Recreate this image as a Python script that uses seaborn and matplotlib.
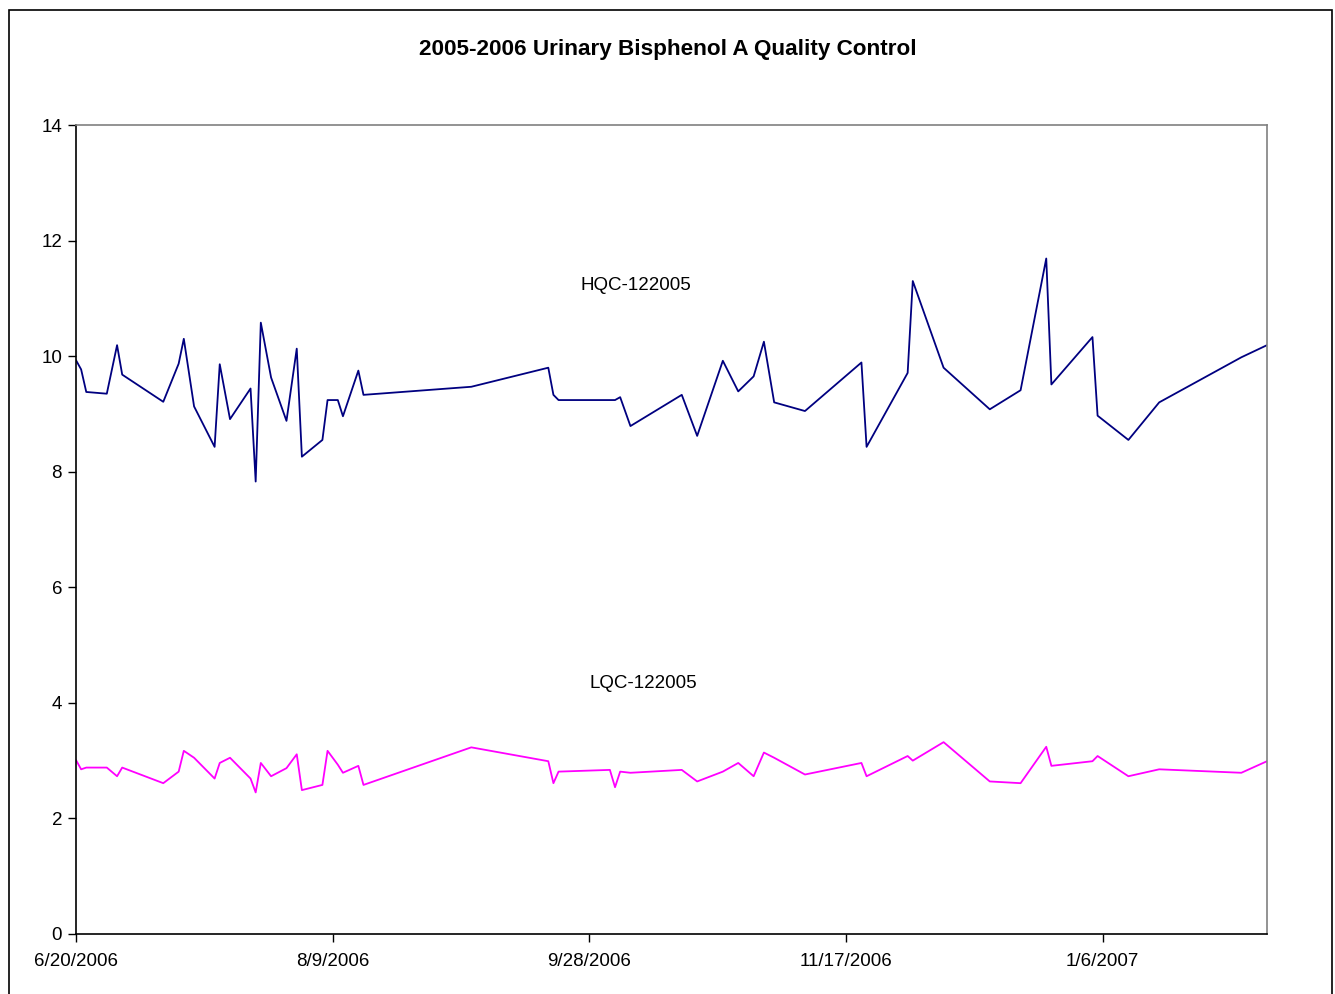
import pandas as pd
import matplotlib.pyplot as plt
import seaborn as sns

# days after 6/20/2006 for each QC run
day_offsets = [0, 1, 2, 6, 8, 9, 17, 20, 21, 23, 27, 28, 30, 34, 35, 36, 38, 41, 43, 44,
               48, 49, 51, 52, 55, 56, 77, 92, 93, 94, 104, 105, 106, 108, 118, 121, 126,
               129, 132, 134, 136, 142, 153, 154, 162, 163, 169, 178, 184, 189, 190, 198,
               199, 205, 211, 227, 232]

hqc = [9.93, 9.77, 9.38, 9.35, 10.19, 9.68, 9.21, 9.87, 10.30, 9.13, 8.43, 9.86, 8.91, 9.44,
       7.83, 10.58, 9.63, 8.88, 10.13, 8.26, 8.55, 9.24, 9.24, 8.96, 9.75, 9.33, 9.47, 9.80,
       9.33, 9.24, 9.24, 9.24, 9.29, 8.79, 9.33, 8.62, 9.92, 9.39, 9.65, 10.25, 9.20, 9.05,
       9.89, 8.43, 9.71, 11.30, 9.80, 9.08, 9.41, 11.69, 9.51, 10.33, 8.97, 8.55, 9.20, 9.98,
       10.19]

lqc = [3.01, 2.85, 2.88, 2.88, 2.73, 2.88, 2.61, 2.81, 3.17, 3.05, 2.69, 2.96, 3.05, 2.69,
       2.45, 2.96, 2.73, 2.87, 3.11, 2.49, 2.58, 3.17, 2.93, 2.79, 2.91, 2.58, 3.23, 2.99,
       2.61, 2.81, 2.84, 2.54, 2.81, 2.79, 2.84, 2.64, 2.81, 2.96, 2.73, 3.14, 3.05, 2.76,
       2.96, 2.73, 3.08, 3.00, 3.32, 2.64, 2.61, 3.24, 2.91, 2.99, 3.08, 2.73, 2.85, 2.79,
       2.99]

series_names = ['HQC-122005', 'LQC-122005']
tick_dates = ['2006-06-20', '2006-08-09', '2006-09-28', '2006-11-17', '2007-01-06']

start = pd.Timestamp('2006-06-20')
dates = [start + pd.Timedelta(days=d) for d in day_offsets]
df = pd.concat([
    pd.DataFrame({'date': dates, 'value': hqc, 'series': series_names[0]}),
    pd.DataFrame({'date': dates, 'value': lqc, 'series': series_names[1]}),
])

sns.set_style('white')
plt.rcParams['font.family'] = ['Liberation Sans', 'DejaVu Sans']
plt.rcParams['text.color'] = 'black'
plt.rcParams['xtick.color'] = 'black'
plt.rcParams['ytick.color'] = 'black'

fig = plt.figure(figsize=(13.35, 9.94), dpi=100)
ax = fig.add_axes([76 / 1335, 1 - 934 / 994, (1267 - 76) / 1335, (934 - 125) / 994])

sns.lineplot(data=df, x='date', y='value', hue='series',
             palette={'HQC-122005': '#000080', 'LQC-122005': '#FF00FF'},
             linewidth=1.3, legend=False, ax=ax, estimator=None)

ax.set_xlim(start, start + pd.Timedelta(days=232))
ax.set_ylim(0, 14)
ax.set_yticks(range(0, 15, 2))
ticks = pd.to_datetime(tick_dates)
ax.set_xticks(ticks)
ax.set_xticklabels([f'{t.month}/{t.day}/{t.year}' for t in ticks])
ax.set_xlabel('')
ax.set_ylabel('')
ax.tick_params(axis='both', labelsize=13.5, labelcolor='black', direction='out',
               length=6, width=1, color='black', left=True, bottom=True)
ax.tick_params(axis='x', pad=8)
ax.tick_params(axis='y', pad=4)

for side in ['left', 'bottom']:
    ax.spines[side].set_color('black')
    ax.spines[side].set_linewidth(1.2)
for side in ['top', 'right']:
    ax.spines[side].set_visible(True)
    ax.spines[side].set_color('#808080')
    ax.spines[side].set_linewidth(1.2)

ax.text(start + pd.Timedelta(days=109), 11.22, 'HQC-122005',
        fontsize=13.5, ha='center', va='center', color='black')
ax.text(start + pd.Timedelta(days=110.5), 4.33, 'LQC-122005',
        fontsize=13.5, ha='center', va='center', color='black')

fig.text(0.5, 1 - 49 / 994, '2005-2006 Urinary Bisphenol A Quality Control',
         fontsize=16.2, fontweight='bold', ha='center', va='center', color='black')

# outer chart border
fig.add_artist(plt.Rectangle((9 / 1335, -0.05), (1332 - 9) / 1335, 1.05 - 10 / 994,
                             transform=fig.transFigure, fill=False,
                             edgecolor='black', linewidth=1.2))

fig.savefig('out.png', dpi=100)
